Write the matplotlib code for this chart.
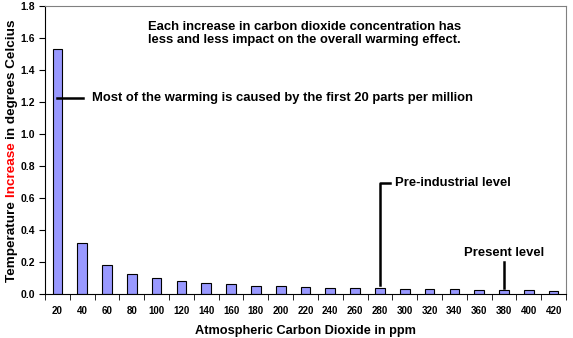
import numpy as np
import matplotlib.pyplot as plt

plt.rcParams['font.family'] = ['Liberation Sans', 'DejaVu Sans']
plt.rcParams['font.weight'] = 'bold'

ppm = [20, 40, 60, 80, 100, 120, 140, 160, 180, 200, 220,
       240, 260, 280, 300, 320, 340, 360, 380, 400, 420]
warming = [1.53, 0.317, 0.18, 0.123, 0.10, 0.079, 0.067, 0.06, 0.048, 0.048, 0.042,
           0.036, 0.036, 0.036, 0.03, 0.03, 0.03, 0.023, 0.023, 0.023, 0.017]

fig = plt.figure(figsize=(5.73, 3.38), dpi=100)
ax = fig.add_axes([45 / 573, 44 / 338, 521 / 573, 288 / 338])

x = np.arange(len(ppm))
ax.bar(x, warming, width=0.39, color='#9999FF', edgecolor='black', linewidth=0.8)

ax.set_xlim(-0.5, len(ppm) - 0.5)
ax.set_ylim(0, 1.8)
ax.set_yticks(np.arange(0, 1.81, 0.2))
ax.set_yticklabels([f'{v:.1f}' for v in np.arange(0, 1.81, 0.2)], fontsize=7.5)
ax.set_xticks(x)
ax.set_xticklabels([str(p) for p in ppm], fontsize=7)
ax.set_xticks(np.arange(-0.5, len(ppm), 1), minor=True)
ax.tick_params(axis='x', which='major', length=0, pad=9)
ax.tick_params(axis='x', which='minor', length=4, direction='out')
ax.tick_params(axis='y', length=4, direction='out', pad=3)

for side in ['top', 'right']:
    ax.spines[side].set_color('#808080')
for side in ['left', 'bottom']:
    ax.spines[side].set_color('black')

ax.set_xlabel('Atmospheric Carbon Dioxide in ppm', fontsize=9.2,
              fontweight='bold', labelpad=6)

# y label in three colours, chained bottom to top
t1 = fig.text(12 / 573, 1 - 282 / 338, 'Temperature ', rotation=90, fontsize=9.7,
              ha='center', va='bottom', color='black')
t2 = ax.annotate('Increase ', xycoords=t1, xy=(0.5, 1), ha='center', va='bottom',
                 rotation=90, fontsize=9.7, color='red')
ax.annotate('in degrees Celcius', xycoords=t2, xy=(0.5, 1), ha='center', va='bottom',
            rotation=90, fontsize=9.7, color='black')

ax.text(3.65, 1.628, 'Each increase in carbon dioxide concentration has\n'
        'less and less impact on the overall warming effect.',
        fontsize=9.4, ha='left', va='center', linespacing=1.2)

ax.plot([0, 1.03], [1.225, 1.225], color='black', lw=1.8)
ax.text(1.38, 1.225, 'Most of the warming is caused by the first 20 parts per million',
        fontsize=9.4, ha='left', va='center')

ax.plot([13, 13, 13.41], [0.056, 0.694, 0.694], color='black', lw=1.8)
ax.text(13.61, 0.694, 'Pre-industrial level', fontsize=9.4, ha='left', va='center')

ax.plot([18, 18], [0.0375, 0.2], color='black', lw=1.8)
ax.text(18, 0.256, 'Present level', fontsize=9.4, ha='center', va='center')

fig.savefig('out.png', dpi=100)
